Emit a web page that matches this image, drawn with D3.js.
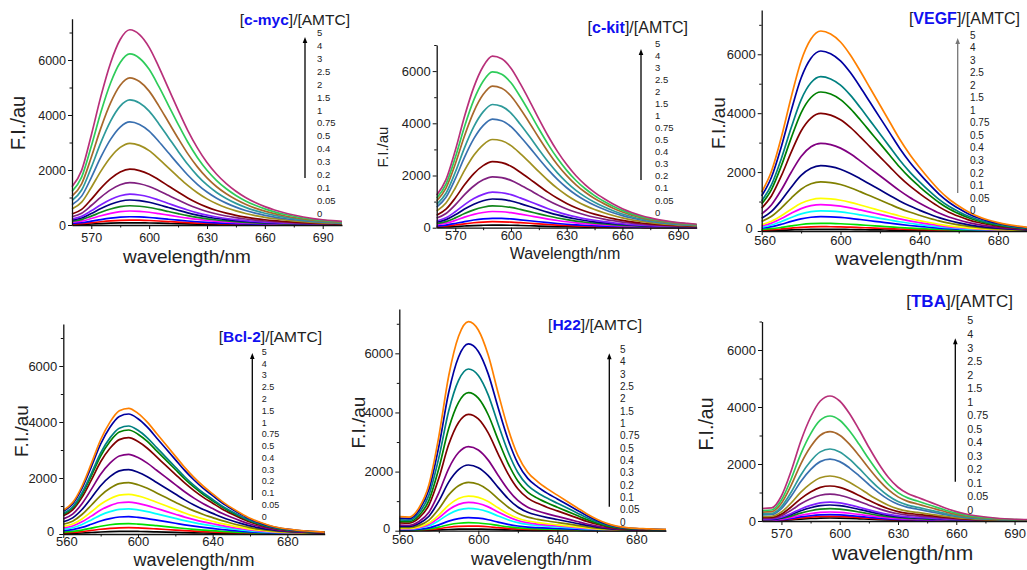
<!DOCTYPE html>
<html>
<head>
<meta charset="utf-8">
<script src="https://cdn.jsdelivr.net/npm/d3@7"></script>
<style>
  body { margin: 0; background: #fff; }
  svg { display: block; font-family: "Liberation Sans", Arial, sans-serif; }
</style>
</head>
<body>
<svg id="fig" width="1027" height="570"></svg>
<script>
// emission wavelengths (nm) shared by every spectrum
const wavelengths = [560, 565, 570, 575, 580, 585, 590, 595, 600, 605, 610, 615, 620, 625, 630,
  635, 640, 645, 650, 655, 660, 665, 670, 675, 680, 685, 690, 695, 700];

// [DNA]/[AMTC] ratios, bottom curve first
const ratioLabels = ['0', '0.05', '0.1', '0.2', '0.3', '0.4', '0.5', '0.75', '1', '1.5', '2', '2.5', '3', '4', '5'];

// spectral profile of each panel (peak = 1)
const shapeCmyc = [0.196, 0.28, 0.46, 0.66, 0.83, 0.95, 1.0, 0.975, 0.91, 0.81, 0.70, 0.59, 0.485, 0.395, 0.32,
  0.26, 0.212, 0.173, 0.141, 0.115, 0.094, 0.077, 0.063, 0.051, 0.041, 0.033, 0.027, 0.022, 0.018];
const shapeCkit = [0.19, 0.28, 0.45, 0.65, 0.82, 0.94, 1.0, 0.985, 0.93, 0.84, 0.74, 0.635, 0.535, 0.445, 0.368,
  0.303, 0.25, 0.206, 0.17, 0.138, 0.111, 0.089, 0.071, 0.057, 0.046, 0.037, 0.03, 0.025, 0.02];
const shapeVegf = [0.195, 0.30, 0.47, 0.67, 0.85, 0.96, 1.0, 0.985, 0.945, 0.88, 0.80, 0.715, 0.63, 0.545, 0.46,
  0.385, 0.32, 0.26, 0.205, 0.16, 0.125, 0.095, 0.072, 0.055, 0.042, 0.032, 0.024, 0.018, 0.014];
const shapeBcl2 = [0.19, 0.25, 0.38, 0.56, 0.75, 0.89, 0.98, 1.0, 0.96, 0.89, 0.80, 0.71, 0.62, 0.53, 0.45,
  0.38, 0.32, 0.26, 0.21, 0.165, 0.125, 0.095, 0.07, 0.052, 0.04, 0.031, 0.024, 0.019, 0.015];
const shapeH22 = [0.067, 0.065, 0.11, 0.22, 0.45, 0.74, 0.93, 1.0, 0.96, 0.84, 0.66, 0.49, 0.36, 0.28, 0.235,
  0.20, 0.17, 0.14, 0.11, 0.08, 0.055, 0.035, 0.022, 0.015, 0.011, 0.009, 0.007, 0.006, 0.005];
const shapeTba = [0.10, 0.105, 0.20, 0.40, 0.64, 0.83, 0.96, 1.0, 0.96, 0.86, 0.73, 0.59, 0.46, 0.35, 0.27,
  0.22, 0.19, 0.16, 0.13, 0.10, 0.075, 0.056, 0.042, 0.032, 0.024, 0.018, 0.014, 0.011, 0.009];

// peak fluorescence intensity (au) for each ratio, bottom curve first
const peaksCmyc = [80, 180, 300, 510, 700, 910, 1120, 1540, 2030, 2970, 3750, 4550, 5350, 6220, 7100];
const peaksCkit = [100, 230, 360, 620, 835, 1100, 1360, 1950, 2530, 3380, 4160, 4720, 5425, 5970, 6570];
const peaksVegf = [57, 147, 260, 487, 685, 895, 1105, 1670, 2218, 2977, 3995, 4720, 5241, 6112, 6791];
const peaksBcl2 = [95, 226, 370, 619, 900, 1140, 1417, 1833, 2300, 2845, 3440, 3714, 3857, 4286, 4488];
const peaksH22 = [56, 158, 271, 440, 756, 959, 1173, 1636, 2222, 2843, 3937, 4670, 5471, 6317, 7073];
const peaksTba = [105, 165, 222, 315, 432, 561, 661, 940, 1228, 1579, 2170, 2526, 3135, 3684, 4386];

const paletteA = ['#000000', '#ff0000', '#0000ff', '#ff00ff', '#12861a', '#000080', '#8020ff', '#802080',
  '#800000', '#a09020', '#3a70b0', '#2e9a9a', '#a8682c', '#2ecc5a', '#b8307a'];
const paletteB = ['#000000', '#ff0000', '#00e000', '#0000ff', '#00ffff', '#ff00ff', '#ffff00', '#808000',
  '#000080', '#800080', '#800000', '#008000', '#008080', '#0000a0', '#ff8000'];

const panels = [
  { dna: 'c-myc', shape: shapeCmyc, peaks: peaksCmyc, colors: paletteA,
    xDomain: [560, 700], xRange: [72, 342], yDomain: [0, 7500], yRange: [225, 18.75],
    xTicks: [570, 600, 630, 660, 690], xMinor: [585, 615, 645, 675],
    tickFont: 12.5, xLabelOff: 16.5,
    xTitle: { x: 187, y: 262.5, size: 19, text: 'wavelength/nm' },
    yTitle: { x: 25, y: 123, size: 20 },
    title: { x: 350, y: 25, size: 15.5 },
    legend: { x: 317, y5: 33, y0: 213.3, size: 9.5 },
    arrow: { x: 305, y1: 178, y2: 37, color: '#000' } },
  { dna: 'c-kit', shape: shapeCkit, peaks: peaksCkit, colors: paletteA,
    xDomain: [560, 700], xRange: [436.7, 696.7], yDomain: [0, 7000], yRange: [227.7, 45],
    xTicks: [570, 600, 630, 660, 690], xMinor: [585, 615, 645, 675],
    tickFont: 13, xLabelOff: 12.8,
    xTitle: { x: 565, y: 258.5, size: 16, text: 'Wavelength/nm' },
    yTitle: { x: 388, y: 147, size: 15 },
    title: { x: 688, y: 33, size: 16 },
    legend: { x: 655, y5: 43.3, y0: 212.3, size: 9.5 },
    arrow: { x: 641, y1: 180, y2: 49, color: '#000' } },
  { dna: 'VEGF', shape: shapeVegf, peaks: peaksVegf, colors: paletteB,
    xDomain: [560, 700], xRange: [761.7, 1037.5], yDomain: [0, 7500], yRange: [231, 10.1],
    xTicks: [560, 600, 640, 680], xMinor: [580, 620, 660],
    tickFont: 13, xLabelOff: 13.5,
    xTitle: { x: 899, y: 265, size: 19, text: 'wavelength/nm' },
    yTitle: { x: 725, y: 123, size: 19 },
    title: { x: 1020, y: 24, size: 16 },
    legend: { x: 970, y5: 35, y0: 210.7, size: 10 },
    arrow: { x: 957.7, y1: 193, y2: 38, color: '#777' } },
  { dna: 'Bcl-2', shape: shapeBcl2, peaks: peaksBcl2, colors: paletteB,
    xDomain: [560, 700], xRange: [63.3, 324.7], yDomain: [0, 7500], yRange: [534, 324],
    xTicks: [560, 600, 640, 680], xMinor: [580, 620, 660],
    tickFont: 13, xLabelOff: 12,
    xTitle: { x: 194, y: 566, size: 18, text: 'wavelength/nm' },
    yTitle: { x: 28, y: 431, size: 19 },
    title: { x: 322, y: 341.7, size: 15.5 },
    legend: { x: 261.7, y5: 351.7, y0: 516.7, size: 9 },
    arrow: { x: 252.3, y1: 500, y2: 353, color: '#000' } },
  { dna: 'H22', shape: shapeH22, peaks: peaksH22, colors: paletteB,
    xDomain: [560, 695], xRange: [399.3, 666], yDomain: [0, 7500], yRange: [530.7, 309],
    xTicks: [560, 600, 640, 680], xMinor: [580, 620, 660],
    tickFont: 13, xLabelOff: 13,
    xTitle: { x: 531.5, y: 565, size: 18, text: 'wavelength/nm' },
    yTitle: { x: 365, y: 422.5, size: 19 },
    title: { x: 642, y: 330, size: 15.5 },
    legend: { x: 620, y5: 349.3, y0: 522.3, size: 10 },
    arrow: { x: 609.3, y1: 506.7, y2: 353.3, color: '#000' } },
  { dna: 'TBA', shape: shapeTba, peaks: peaksTba, colors: paletteA,
    xDomain: [560, 700], xRange: [762, 1034], yDomain: [0, 7000], yRange: [521, 321.5],
    xTicks: [570, 600, 630, 660, 690], xMinor: [585, 615, 645, 675],
    tickFont: 13, xLabelOff: 17,
    xTitle: { x: 902.5, y: 560, size: 21, text: 'wavelength/nm' },
    yTitle: { x: 713, y: 424, size: 19.5 },
    title: { x: 1013, y: 306.7, size: 17 },
    legend: { x: 967.3, y5: 320.7, y0: 510, size: 10.8 },
    arrow: { x: 955.3, y1: 481.7, y2: 338.3, color: '#000' } }
];

const svg = d3.select('#fig');

const drawPanel = (p) => {
  const g = svg.append('g').attr('class', 'panel');
  const x = d3.scaleLinear().domain(p.xDomain).range(p.xRange);
  const y = d3.scaleLinear().domain(p.yDomain).range(p.yRange);

  const line = d3.line()
    .x(d => x(d[0]))
    .y(d => y(d[1]))
    .curve(d3.curveMonotoneX);

  // spectra
  p.peaks.forEach((peak, i) => {
    const pts = wavelengths
      .map((w, j) => [w, p.shape[j] * peak])
      .filter(d => d[0] <= p.xDomain[1]);
    g.append('path')
      .datum(pts)
      .attr('d', line)
      .attr('fill', 'none')
      .attr('stroke', p.colors[i])
      .attr('stroke-width', 1.7);
  });

  // axes
  const tick = 4;
  const xAxis = g.append('g')
    .attr('transform', `translate(0,${p.yRange[0]})`)
    .call(d3.axisBottom(x).tickValues(p.xTicks).tickSize(tick).tickSizeOuter(0)
      .tickPadding(p.xLabelOff - tick - 0.71 * p.tickFont).tickFormat(d3.format('d')));
  g.append('g')
    .attr('transform', `translate(0,${p.yRange[0]})`)
    .call(d3.axisBottom(x).tickValues(p.xMinor).tickSize(2.5).tickFormat(''))
    .call(a => a.select('.domain').remove());

  const yAxis = g.append('g')
    .attr('transform', `translate(${p.xRange[0]},0)`)
    .call(d3.axisLeft(y).tickValues([0, 2000, 4000, 6000]).tickSize(tick).tickSizeOuter(0)
      .tickPadding(2).tickFormat(d3.format('d')));
  g.append('g')
    .attr('transform', `translate(${p.xRange[0]},0)`)
    .call(d3.axisLeft(y).tickValues([1000, 3000, 5000, 7000]).tickSize(2.5).tickFormat(''))
    .call(a => a.select('.domain').remove());

  g.selectAll('.domain').attr('stroke', '#111').attr('stroke-width', 1.3);
  g.selectAll('.tick line').attr('stroke', '#111');
  [xAxis, yAxis].forEach(a => a.selectAll('text')
    .attr('font-size', p.tickFont)
    .attr('font-family', '"Liberation Sans", Arial, sans-serif')
    .attr('fill', '#222'));

  // the corner "0" and "560" labels sit close together; keep them apart
  if (p.xTicks[0] === p.xDomain[0]) {
    yAxis.select('.tick text').attr('dx', -3).attr('dy', '0.1em');
    xAxis.select('.tick text').attr('dx', 3);
  }

  // axis titles
  g.append('text')
    .attr('x', p.xTitle.x).attr('y', p.xTitle.y)
    .attr('text-anchor', 'middle')
    .attr('font-size', p.xTitle.size)
    .attr('fill', '#222')
    .text(p.xTitle.text);
  g.append('text')
    .attr('transform', `translate(${p.yTitle.x},${p.yTitle.y}) rotate(-90)`)
    .attr('text-anchor', 'middle')
    .attr('font-size', p.yTitle.size)
    .attr('fill', '#222')
    .text('F.I./au');

  // panel title
  const t = g.append('text')
    .attr('x', p.title.x).attr('y', p.title.y)
    .attr('text-anchor', 'end')
    .attr('font-size', p.title.size)
    .attr('fill', '#222');
  t.append('tspan').text('[');
  t.append('tspan').attr('fill', '#1010f0').attr('font-weight', 'bold').text(p.dna);
  t.append('tspan').text(']/[AMTC]');

  // ratio legend
  const ly = d3.scaleLinear().domain([0, ratioLabels.length - 1]).range([p.legend.y0, p.legend.y5]);
  g.append('g')
    .selectAll('text')
    .data(ratioLabels)
    .join('text')
      .attr('x', p.legend.x)
      .attr('y', (d, i) => ly(i))
      .attr('dy', '0.35em')
      .attr('font-size', p.legend.size)
      .attr('fill', '#222')
      .text(d => d);

  // arrow
  const a = p.arrow;
  g.append('line')
    .attr('x1', a.x).attr('x2', a.x)
    .attr('y1', a.y1).attr('y2', a.y2 + 4)
    .attr('stroke', a.color).attr('stroke-width', 1.3);
  g.append('path')
    .attr('d', `M${a.x},${a.y2} L${a.x - 2.3},${a.y2 + 6} L${a.x + 2.3},${a.y2 + 6} Z`)
    .attr('fill', a.color);
};

panels.forEach(drawPanel);
</script>
</body>
</html>
